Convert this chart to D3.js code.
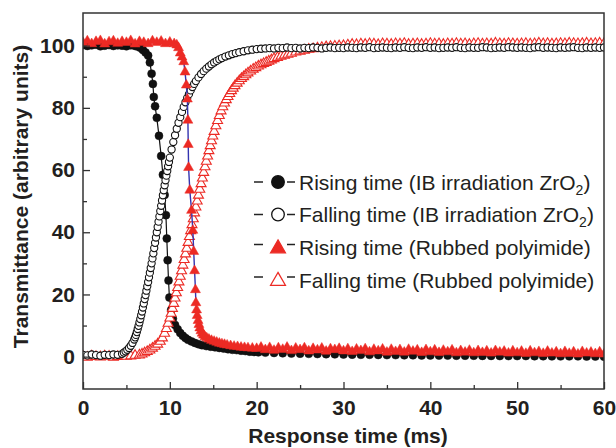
<!DOCTYPE html>
<html><head><meta charset="utf-8">
<script src="https://cdn.jsdelivr.net/npm/d3@7"></script>
<style>body{margin:0;background:#fff}svg{display:block}</style>
</head><body>
<svg id="chart" width="616" height="448"></svg>
<script>
// ---------- data ----------
const risingZrO2Time = [0,0.5,1,1.5,2,2.5,3,3.5,4,4.5,5,5.5,6,
  6.3,6.6,6.9,7.2,7.5,7.7,7.9,8.05,8.15,8.3,
  8.5,8.75,9.0,9.2,9.4,9.55,9.65,9.75,9.85,9.95,
  10.15,10.35,10.6,10.9,11.2,11.5,11.8,12.1,12.5,12.9,
  13.3,13.7,14.2,14.7,15.2,15.7,16.2,16.7,17.2,17.7,
  18.2,18.7,19.2,19.7,20.2,
  21,22,23,24,25,26,27,28,29,30,31,32,33,34,35,36,37,38,39,40,
  41,42,43,44,45,46,47,48,49,50,51,52,53,54,55,56,57,58,59,60];
const risingZrO2Value = [100.2,99.9,100.1,100.3,99.8,100.0,100.2,99.9,100.1,100.0,99.8,100.1,99.9,
  99.7,99.3,98.6,97.8,96.8,94.6,91.0,87.7,83.5,80.5,
  76.8,71.0,64.5,58.5,52.0,45.5,38.0,31.0,24.5,19.0,
  15.0,12.2,10.2,8.8,7.6,6.7,6.0,5.4,4.9,4.4,
  4.0,3.7,3.4,3.2,3.0,2.8,2.6,2.4,2.2,2.1,
  1.9,1.8,1.6,1.5,1.4,
  1.3,1.2,1.1,1.0,0.95,0.9,0.85,0.8,0.75,0.7,0.65,0.6,0.6,0.55,0.5,0.5,0.45,0.45,0.4,0.4,
  0.35,0.35,0.3,0.3,0.3,0.25,0.25,0.2,0.2,0.2,0.2,0.15,0.15,0.1,0.1,0.1,0.1,0.05,0.05,0.0];

const fallingZrO2Time = [0,0.5,1,1.5,2,2.5,3,3.5,4,4.5,
  4.7,4.9,5.1,5.3,5.5,5.7,5.9,
  6.0,6.1,6.2,6.3,6.4,6.5,6.6,6.7,6.8,6.9,
  7.0,7.1,7.2,7.3,7.4,7.5,7.6,7.7,7.8,7.9,
  8.0,8.1,8.2,8.3,8.4,8.5,8.6,8.7,8.8,8.9,
  9.0,9.1,9.2,9.3,9.4,9.5,9.6,9.7,9.8,9.9,10.0,
  10.2,10.4,10.6,10.8,11.0,11.2,11.4,11.6,11.8,12.0,12.2,12.4,12.6,12.8,13.0,
  13.3,13.6,13.9,14.2,14.5,14.8,15.1,15.4,15.7,16.0,
  16.4,16.8,17.2,17.6,18.0,
  18.5,19.0,19.5,20.0,20.5,21.0,
  21.5,22,22.5,23,23.5,24,24.5,25,
  25.5,26,26.5,27,27.5,28,28.5,29,29.5,30,
  30.5,31,31.5,32,32.5,33,33.5,34,34.5,35,
  35.5,36,36.5,37,37.5,38,38.5,39,39.5,40,
  40.5,41,41.5,42,42.5,43,43.5,44,44.5,45,
  45.5,46,46.5,47,47.5,48,48.5,49,49.5,50,
  50.5,51,51.5,52,52.5,53,53.5,54,54.5,55,
  55.5,56,56.5,57,57.5,58,58.5,59,59.5,60];
const fallingZrO2Value = [0.6,0.4,0.7,0.5,0.3,0.6,0.5,0.7,0.6,0.9,
  1.3,1.7,2.2,2.8,3.5,4.4,5.5,
  6.2,7.0,7.9,8.9,9.9,11.0,12.1,13.3,14.5,15.8,
  17.1,18.5,19.8,21.2,22.6,24.0,25.5,27.0,28.5,30.0,
  31.6,33.2,34.9,36.6,38.3,40.0,41.7,43.4,45.1,46.8,
  48.5,50.2,51.9,53.5,55.1,56.7,58.2,59.7,61.2,62.6,64.0,
  66.6,69.0,71.2,73.3,75.2,77.0,78.7,80.3,81.8,83.2,84.4,85.6,86.7,87.7,88.6,
  89.8,90.9,91.8,92.6,93.3,94.0,94.6,95.1,95.6,96.0,
  96.5,96.9,97.3,97.6,97.9,
  98.2,98.5,98.7,98.9,99.0,99.1,
  99.2,99.1,99.3,99.2,99.4,99.2,99.3,99.1,
  99.3,99.2,99.4,99.3,99.1,99.3,99.4,99.2,99.3,99.2,
  99.4,99.3,99.2,99.4,99.3,99.5,99.2,99.3,99.4,99.3,
  99.2,99.4,99.3,99.5,99.3,99.2,99.4,99.3,99.5,99.3,
  99.4,99.2,99.3,99.4,99.3,99.5,99.3,99.2,99.4,99.3,
  99.3,99.5,99.4,99.2,99.3,99.4,99.3,99.5,99.4,99.3,
  99.4,99.3,99.2,99.4,99.5,99.3,99.4,99.3,99.2,99.4,
  99.3,99.4,99.5,99.3,99.2,99.4,99.3,99.4,99.3,99.4];

const risingPITime = [0,0.5,1,1.5,2,2.5,3,3.5,4,4.5,5,5.5,6,6.5,7,7.5,8,8.5,9,9.5,10,10.5,
  10.8,11.0,11.2,11.4,11.6,11.75,11.9,12.02,12.08,12.12,
  12.16,12.3,12.5,12.65,12.75,12.85,12.95,13.0,13.08,13.15,
  13.25,13.35,13.45,13.58,13.72,13.88,14.05,14.25,14.5,14.8,
  15.1,15.4,15.7,16.0,16.3,16.6,17.0,17.4,17.8,18.2,
  18.6,19.0,19.5,20.0,
  20.5,21,21.5,22,22.5,23,23.5,24,24.5,25,
  25.5,26,26.5,27,27.5,28,28.5,29,29.5,30,
  30.5,31,31.5,32,32.5,33,33.5,34,34.5,35,
  35.5,36,36.5,37,37.5,38,38.5,39,39.5,40,
  40.5,41,41.5,42,42.5,43,43.5,44,44.5,45,
  45.5,46,46.5,47,47.5,48,48.5,49,49.5,50,
  50.5,51,51.5,52,52.5,53,53.5,54,54.5,55,
  55.5,56,56.5,57,57.5,58,58.5,59,59.5,60];
const risingPIValue = [101.0,101.5,100.6,101.3,101.6,100.5,101.2,101.5,100.7,101.3,101.0,101.6,100.5,101.3,101.0,100.6,101.5,101.0,101.4,100.6,101.1,100.6,
  100.2,99.3,97.6,96.3,94.8,91.5,87.3,82.8,76.0,68.2,
  60.8,53.5,47.0,40.6,33.8,27.6,21.5,17.3,15.0,13.2,
  11.6,10.3,9.2,8.3,7.5,6.9,6.4,6.0,5.6,5.2,
  4.9,4.6,4.3,4.1,3.9,3.7,3.5,3.3,3.2,3.0,
  2.9,2.8,2.7,2.6,
  3.0,2.2,2.9,2.0,2.8,2.3,3.0,1.9,2.7,2.2,
  2.8,1.8,2.6,2.1,2.7,1.7,2.5,2.2,2.6,1.8,
  2.5,1.6,2.4,1.9,2.5,1.5,2.3,1.8,2.4,1.4,
  2.3,1.6,2.2,1.4,2.3,1.7,2.1,1.3,2.2,1.5,
  2.1,1.3,2.0,1.5,2.1,1.2,1.9,1.4,2.0,1.2,
  1.9,1.3,1.8,1.1,1.9,1.4,1.7,1.1,1.8,1.2,
  1.7,1.0,1.8,1.2,1.6,1.0,1.7,1.1,1.5,0.9,
  1.6,1.0,1.5,0.8,1.6,1.1,1.4,0.9,1.5,0.8];

const fallingPITime = [0,0.5,1,1.5,2,2.5,3,3.5,4,4.5,5,5.5,6,6.5,
  6.8,7.1,7.4,7.7,8.0,8.3,8.6,8.9,9.15,9.4,
  9.6,9.8,10.0,10.15,10.3,10.45,10.6,10.75,10.9,11.05,
  11.2,11.35,11.5,11.65,11.8,11.95,12.1,12.25,12.4,12.55,
  12.7,12.85,13.0,13.15,13.3,13.45,13.6,13.75,13.9,14.05,
  14.2,14.35,14.5,14.65,14.8,14.95,15.1,15.3,15.5,15.7,
  15.9,16.1,16.3,16.5,16.7,16.9,17.1,17.3,17.5,17.75,
  18.0,18.25,18.5,18.75,19.0,19.3,19.6,19.9,20.2,20.5,
  20.8,21.1,21.4,21.7,22.0,22.4,22.8,23.2,23.6,24.0,
  24.5,25.0,25.5,26.0,26.5,27.0,27.5,28.0,28.5,29.0,
  29.5,30.0,
  30.5,31,31.5,32,32.5,33,33.5,34,34.5,35,
  35.5,36,36.5,37,37.5,38,38.5,39,39.5,40,
  40.5,41,41.5,42,42.5,43,43.5,44,44.5,45,
  45.5,46,46.5,47,47.5,48,48.5,49,49.5,50,
  50.5,51,51.5,52,52.5,53,53.5,54,54.5,55,
  55.5,56,56.5,57,57.5,58,58.5,59,59.5,60];
const fallingPIValue = [0.1,-0.2,0.2,0.0,-0.1,0.2,0.1,-0.2,0.0,0.3,0.1,0.2,0.4,0.5,
  0.8,1.2,1.6,2.1,2.7,3.3,4.0,4.9,6.0,7.5,
  9.0,10.7,12.4,13.9,15.5,17.1,18.8,20.5,22.2,24.0,
  25.8,27.6,29.4,31.2,33.0,34.8,36.7,38.6,40.5,42.4,
  44.3,46.2,48.1,50.0,51.9,53.8,55.6,57.4,59.2,61.0,
  62.8,64.5,66.2,67.8,69.4,70.9,72.4,74.2,75.9,77.5,
  79.0,80.3,81.5,82.6,83.6,84.6,85.5,86.3,87.1,87.9,
  88.7,89.4,90.0,90.6,91.2,91.8,92.4,92.9,93.4,93.8,
  94.2,94.6,95.0,95.4,95.8,96.2,96.6,96.9,97.2,97.5,
  97.9,98.2,98.5,98.8,99.0,99.2,99.4,99.6,99.7,99.8,
  99.9,100.0,
  100.2,100.4,100.3,100.5,100.4,100.6,100.5,100.3,100.6,100.5,
  100.4,100.6,100.5,100.7,100.4,100.5,100.6,100.4,100.5,100.7,
  100.5,100.6,100.4,100.6,100.5,100.7,100.5,100.6,100.4,100.6,
  100.7,100.5,100.6,100.5,100.8,100.6,100.5,100.7,100.6,100.5,
  100.6,100.7,100.5,100.6,100.8,100.6,100.7,100.5,100.6,100.7,
  100.6,100.8,100.7,100.6,100.7,100.8,100.6,100.7,100.8,100.7];

const xTicks = [0,10,20,30,40,50,60];
const xMinorTicks = [5,15,25,35,45,55];
const yTicks = [0,20,40,60,80,100];
const yMinorTicks = [10,30,50,70,90];
const xTitle = "Response time (ms)";
const yTitle = "Transmittance (arbitrary units)";
const legendMain = ["Rising time (IB irradiation ZrO", "Falling time (IB irradiation ZrO",
                    "Rising time (Rubbed polyimide)", "Falling time (Rubbed polyimide)"];
const legendSub = ["2", "2", "", ""];

// ---------- drawing ----------
const FONT = "'Liberation Sans', Arial, Helvetica, sans-serif";
const RED = "#ec2a24", TXT = "#231f20";
const svg = d3.select("#chart");
const P = {left: 83, right: 604, top: 13, bottom: 389};
const x = d3.scaleLinear().domain([0, 60]).range([P.left, P.right]);
const y = d3.scaleLinear().domain([-10.4, 110.5]).range([P.bottom, P.top]);

svg.append("defs").append("clipPath").attr("id", "clip")
  .append("rect").attr("x", P.left).attr("y", P.top)
  .attr("width", P.right - P.left).attr("height", P.bottom - P.top);

const zipS = (t, v) => d3.range(Math.min(t.length, v.length)).map(i => [t[i], v[i]]);
const line = d3.line().x(d => x(d[0])).y(d => y(d[1]));
const triSym = d3.symbol().type(d3.symbolTriangle).size(43)();
const plotG = svg.append("g").attr("clip-path", "url(#clip)");

function drawSeries(data, opt) {
  const g = plotG.append("g");
  g.append("path").datum(data).attr("d", line)
    .attr("fill", "none").attr("stroke", opt.lineColor).attr("stroke-width", opt.lineWidth);
  const sel = g.selectAll(".m").data(data).enter();
  if (opt.shape === "circle") {
    sel.append("circle").attr("cx", d => x(d[0])).attr("cy", d => y(d[1])).attr("r", opt.r)
      .attr("fill", opt.fill).attr("stroke", opt.stroke).attr("stroke-width", opt.sw);
  } else {
    sel.append("path").attr("d", triSym)
      .attr("transform", d => `translate(${x(d[0])},${y(d[1])})`)
      .attr("fill", opt.fill).attr("stroke", opt.stroke).attr("stroke-width", opt.sw);
  }
}

drawSeries(zipS(risingZrO2Time, risingZrO2Value),
  {shape: "circle", r: 4, fill: "#111", stroke: "#111", sw: 0.5, lineColor: "#111", lineWidth: 1.2});
drawSeries(zipS(fallingPITime, fallingPIValue),
  {shape: "tri", fill: "#fff", stroke: RED, sw: 1.1, lineColor: RED, lineWidth: 0.8});
drawSeries(zipS(fallingZrO2Time, fallingZrO2Value),
  {shape: "circle", r: 3.6, fill: "#fff", stroke: "#111", sw: 1.1, lineColor: "#2c8c8c", lineWidth: 0.9});
drawSeries(zipS(risingPITime, risingPIValue),
  {shape: "tri", fill: RED, stroke: RED, sw: 0.5, lineColor: "#3434b0", lineWidth: 1.4});

// axes
function styleAxis(g) {
  g.attr("font-family", FONT).attr("font-size", 21).attr("font-weight", "bold");
  g.select(".domain").remove();
  g.selectAll("line").attr("stroke", "#333").attr("stroke-width", 1.3);
  g.selectAll("text").attr("fill", TXT);
}
svg.append("g").attr("transform", `translate(0,${P.bottom})`)
  .call(d3.axisBottom(x).tickValues(xTicks).tickSize(-7).tickPadding(11).tickFormat(d3.format("d")))
  .call(styleAxis);
svg.append("g").attr("transform", `translate(0,${P.bottom})`)
  .call(d3.axisBottom(x).tickValues(xMinorTicks).tickSize(-4).tickFormat(""))
  .call(styleAxis);
svg.append("g").attr("transform", `translate(${P.left},0)`)
  .call(d3.axisLeft(y).tickValues(yTicks).tickSize(-7).tickPadding(8).tickFormat(d3.format("d")))
  .call(styleAxis);
svg.append("g").attr("transform", `translate(${P.left},0)`)
  .call(d3.axisLeft(y).tickValues(yMinorTicks).tickSize(-4).tickFormat(""))
  .call(styleAxis);

svg.append("rect").attr("x", P.left).attr("y", P.top)
  .attr("width", P.right - P.left).attr("height", P.bottom - P.top)
  .attr("fill", "none").attr("stroke", "#333").attr("stroke-width", 1.5);

// titles
svg.append("text").attr("x", 348).attr("y", 443).attr("text-anchor", "middle")
  .attr("font-family", FONT).attr("font-size", 21).attr("font-weight", "bold").attr("fill", TXT)
  .text(xTitle);
svg.append("text").attr("transform", "translate(28,196.5) rotate(-90)").attr("text-anchor", "middle")
  .attr("font-family", FONT).attr("font-size", 21).attr("font-weight", "bold").attr("fill", TXT)
  .text(yTitle);

// legend
const legendRows = [182, 214.5, 247.5, 280];
const legendStyles = [
  {shape: "circle", fill: "#111", stroke: "#111"},
  {shape: "circle", fill: "#fff", stroke: "#111"},
  {shape: "tri", fill: RED, stroke: RED},
  {shape: "tri", fill: "#fff", stroke: RED}];
const bigTri = d3.symbol().type(d3.symbolTriangle).size(95)();
legendRows.forEach((cy, i) => {
  const st = legendStyles[i];
  const g = svg.append("g");
  const dy = st.shape === "tri" ? -3 : 0;
  g.append("line").attr("x1", 254).attr("x2", 263).attr("y1", cy + dy).attr("y2", cy + dy)
    .attr("stroke", "#222").attr("stroke-width", 1.5);
  g.append("line").attr("x1", 287).attr("x2", 295).attr("y1", cy + dy).attr("y2", cy + dy)
    .attr("stroke", "#222").attr("stroke-width", 1.5);
  if (st.shape === "circle") {
    g.append("circle").attr("cx", 278).attr("cy", cy).attr("r", 6.3)
      .attr("fill", st.fill).attr("stroke", st.stroke).attr("stroke-width", 1.3);
  } else {
    g.append("path").attr("d", bigTri).attr("transform", `translate(278,${cy + 1})`)
      .attr("fill", st.fill).attr("stroke", st.stroke).attr("stroke-width", 1.3);
  }
  const t = g.append("text").attr("x", 299).attr("y", cy + 7.5)
    .attr("font-family", FONT).attr("font-size", 21).attr("fill", TXT);
  t.append("tspan").text(legendMain[i]);
  if (legendSub[i]) {
    t.append("tspan").attr("font-size", 14).attr("dy", 5).text(legendSub[i]);
    t.append("tspan").attr("dy", -5).text(")");
  }
});
</script>
</body></html>
